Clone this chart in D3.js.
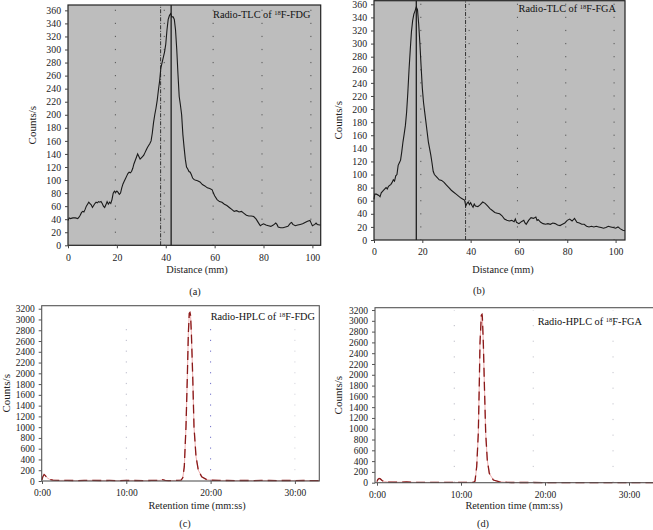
<!DOCTYPE html>
<html><head><meta charset="utf-8">
<script src="https://cdn.jsdelivr.net/npm/d3@7/dist/d3.min.js"></script>
<style>
html,body{margin:0;padding:0;background:#fff;overflow:hidden;}
svg{display:block;font-family:"Liberation Serif","DejaVu Serif",serif;}
</style></head>
<body><svg id="c" width="653" height="530"></svg>
<script>
// ---------- DATA ----------
const fdgTlcDist = [0,0.5,1,2,3,4,4.5,5,5.5,6,6.5,7,7.5,8,8.5,9,9.5,10,10.5,11,11.5,12,12.5,13,13.5,14,14.5,15,15.5,16,16.5,17,17.5,18,18.5,19,19.5,20,20.5,21,21.5,22,22.5,23,23.5,24,24.5,25,25.5,26,26.5,27,27.5,28,28.5,29,29.5,30,30.5,31,31.5,32,32.5,33,33.5,34,34.5,35,35.5,36,36.5,37,37.5,38,38.5,39,39.5,40,40.5,41,41.5,42,42.5,43,43.5,44,44.5,45,45.5,46,46.5,47,47.5,48,48.5,49,49.5,50,50.5,51,51.5,52,53,54,55,56,57,58,59,59.5,60,61,62,63,64,65,66,67,68,69,70,71,72,73,74,75,76,77,78,78.7,79.5,80,81,82,83,84,85,85.5,86,87,88,89,90,91,91.5,92,93,94,95,96,97,98,99,99.5,100,101,101.5,102,103,103.4];
const fdgTlcCounts = [38,42,41,42,42,41,43,46,50,52,51,55,60,63,66,64,62,58,61,64,66,65,67,66,67,64,60,58,62,67,63,66,64,70,80,83,81,83,81,78,80,88,94,98,102,106,110,112,111,113,118,125,130,135,140,136,132,134,136,138,142,146,150,153,156,160,172,188,200,210,222,238,252,272,280,288,296,308,330,346,352,355,350,350,346,330,300,262,228,215,200,170,150,132,120,117,113,112,108,103,101,100,99,97,93,91,88,87,85,80,76,70,67,66,63,61,58,55,52,53,51,52,49,46,45,45,44,40,34,30,32,33,31,30,29,31,34,32,28,27,27,28,29,34,35,32,30,31,32,33,35,37,38,34,30,32,34,32,31,31];
const fdgTlcMarks = {solid: 42.2, dashdot: 37.9};

const fgaTlcDist = [0,0.3,1,2,2.5,3,4,5,5.5,6,7,7.5,8,8.5,9,9.5,10,10.5,11,11.5,12,12.5,13,13.5,14,14.5,15,15.5,16,16.5,17,17.5,18,18.5,19,19.5,20,20.5,21,21.5,22,22.5,23,23.5,24,24.5,25,26,27,28,29,30,31,32,33,34,35,36,37,37.5,38,38.5,39,39.5,40,40.5,41,41.5,42,43,44,45,46,47,48,49,50,51,52,53,54,55,56,57,58,58.5,59,60,61,62,62.5,63,64,65,66,67,67.5,68,69,70,71,72,73,74,75,76,77,78,79,80,81,82,83,84,85,86,87,88,89,90,91,92,93,94,95,96,97,98,99,100,101,102,103,103.9];
const fgaTlcCounts = [62,70,70,68,66,72,76,80,78,82,85,88,92,90,98,100,114,118,122,135,150,162,175,195,225,260,290,318,335,345,350,356,352,330,300,265,232,210,195,180,165,150,140,130,118,105,100,96,92,91,88,84,80,76,73,70,67,64,62,61,52,56,58,54,57,53,50,55,52,51,54,58,56,52,48,45,42,41,40,37,32,30,29,30,28,32,27,25,28,30,26,24,30,34,33,35,30,31,27,25,24,25,24,26,25,23,22,24,26,30,32,29,33,27,26,24,24,21,20,21,20,21,20,19,18,19,21,20,19,18,20,17,15,14];
const fgaTlcMarks = {solid: 17.5, dashdot: 37.9};

const tlcXTicks = [0,20,40,60,80,100];
const tlcYTicks = d3.range(0, 361, 20);

const fdgHplcTime = [0,0.1,0.25,0.4,0.6,0.9,1.3,2,3,4,5,6,7,8,9,10,11,12,13,14,14.3,14.6,15,16,16.5,16.7,16.88,17.08,17.24,17.36,17.47,17.55,17.62,17.72,17.88,18.03,18.27,18.54,18.94,19.54,20,21,22,23,24,25,26,27,28,29,30,31,32,32.9];
const fdgHplcCounts = [20,80,120,100,60,30,15,10,12,8,10,12,9,10,8,10,9,8,10,12,25,10,8,10,15,60,266,1008,1937,2743,3115,3130,3083,2743,1937,1008,450,204,80,25,15,10,9,8,10,8,10,9,8,10,8,9,8,8];

const fgaHplcTime = [0,0.1,0.25,0.4,0.6,0.9,1.3,2,3,3.5,4,5,6,7,8,9,10,11,11.5,11.67,11.87,12.06,12.18,12.26,12.42,12.5,12.54,12.66,12.78,12.94,13.13,13.37,13.85,14.5,15,15.5,16,18,20,25,30,33.5];
const fgaHplcCounts = [20,60,80,70,40,20,12,8,10,14,8,6,5,6,5,6,5,6,8,30,300,915,1840,2580,3105,3120,3080,2580,1840,915,420,174,50,20,12,6,4,4,3,3,3,3];

const hplcXTicks = [0,10,20,30];
const hplcYTicks = d3.range(0, 3201, 200);
const fdgHplcGrid = [10,20,30];
const fgaHplcGrid = [9.2,18.6,28.1];

// ---------- DRAW ----------
const svg = d3.select("#c");
const fmtTime = m => `${Math.floor(m)}:${String(Math.round((m%1)*60)).padStart(2,"0")}`;

function tlcPanel(o){
  const g = svg.append("g");
  const x = d3.scaleLinear().domain([0, o.xMax]).range([o.l, o.r]);
  const y = d3.scaleLinear().domain([0, o.yMax]).range([o.b, o.t]);
  g.append("rect").attr("x",o.l).attr("y",o.t).attr("width",o.r-o.l).attr("height",o.b-o.t)
    .attr("fill","#bdbdbd");
  const step = y(0)-y(20);
  g.selectAll(".grid").data(tlcXTicks.filter(d=>d>0)).join("line")
    .attr("x1",d=>x(d)-1.5).attr("x2",d=>x(d)-1.5).attr("y1",y(0)).attr("y2",o.t)
    .attr("stroke","#555").attr("stroke-width",1).attr("stroke-dasharray",`1.2,${step-1.2}`)
    .attr("stroke-dashoffset",-step+0.6);
  g.append("line").attr("x1",x(o.marks.dashdot)).attr("x2",x(o.marks.dashdot)).attr("y1",o.b).attr("y2",o.t)
    .attr("stroke","#333").attr("stroke-width",1).attr("stroke-dasharray","4,1.5,1,1.5");
  g.append("line").attr("x1",x(o.marks.solid)).attr("x2",x(o.marks.solid)).attr("y1",o.b).attr("y2",o.t)
    .attr("stroke","#111").attr("stroke-width",1.2);
  const pts = o.xs.map((d,i)=>[d,o.ys[i]]);
  g.append("path").datum(pts).attr("fill","none").attr("stroke","#1a1a1a").attr("stroke-width",1.1)
    .attr("d", d3.line().x(d=>x(d[0])).y(d=>y(d[1])));
  g.append("rect").attr("x",o.l).attr("y",o.t).attr("width",o.r-o.l).attr("height",o.b-o.t)
    .attr("fill","none").attr("stroke","#222").attr("stroke-width",1.2);
  const ax = g.append("g").attr("transform",`translate(0,${o.b})`)
    .call(d3.axisBottom(x).tickValues(tlcXTicks).tickSize(3).tickSizeOuter(0));
  const ay = g.append("g").attr("transform",`translate(${o.l},0)`)
    .call(d3.axisLeft(y).tickValues(tlcYTicks).tickSize(3).tickSizeOuter(0));
  [ax,ay].forEach(a=>{a.select(".domain").remove();
    a.selectAll("text").attr("font-size","9.8px").attr("fill","#222").attr("font-family","Liberation Serif");
    a.selectAll("line").attr("stroke","#444");});
  ax.selectAll("text").attr("dy","0.95em");
  ay.selectAll("text").attr("dx","-0.1em");
  g.append("text").attr("x",o.titleX).attr("y",o.titleY).attr("text-anchor","end").attr("font-size","10.3px").attr("fill","#111")
    .call(t=>{t.append("tspan").text("Radio-TLC of ");
      t.append("tspan").attr("font-size","6.5px").attr("dy","-3.5").text("18");
      t.append("tspan").attr("dy","3.5").text(o.compound);});
  g.append("text").attr("transform",`translate(${o.ylx},${(o.t+o.b)/2}) rotate(-90)`).attr("text-anchor","middle")
    .attr("font-size","11px").attr("fill","#222").text("Counts/s");
  g.append("text").attr("x",o.xlx).attr("y",o.xly).attr("text-anchor","middle").attr("font-size","10.3px").attr("fill","#222").text("Distance (mm)");
  g.append("text").attr("x",o.px).attr("y",o.py).attr("text-anchor","middle").attr("font-size","10.3px").attr("fill","#222").text(o.panel);
}

function hplcPanel(o){
  const g = svg.append("g");
  const x = d3.scaleLinear().domain([0, o.xMax]).range([o.x0, o.x0 + o.xMax*o.pxPerMin]);
  const y = d3.scaleLinear().domain([0, o.yMax]).range([o.b, o.t]);
  g.append("rect").attr("x",o.l).attr("y",o.t).attr("width",o.r-o.l).attr("height",o.b-o.t).attr("fill","#fff");
  const step = y(0)-y(o.gridStep);
  g.selectAll(".grid").data(o.grid).join("line")
    .attr("x1",d=>x(d)).attr("x2",d=>x(d)).attr("y1",y(0)).attr("y2",y(o.gridTop))
    .attr("stroke",(d,i)=>o.gridColors[i]).attr("stroke-width",1).attr("stroke-dasharray",`1.2,${step-1.2}`);
  const pts = o.xs.map((d,i)=>[d,o.ys[i]]);
  const line = d3.line().x(d=>x(d[0])).y(d=>y(d[1]));
  g.append("path").datum(pts).attr("fill","none").attr("stroke","#efb0b0").attr("stroke-width",1).attr("d",line);
  g.append("path").datum(pts).attr("fill","none").attr("stroke","#8a1a1a").attr("stroke-width",1.3)
    .attr("stroke-dasharray","9,5").attr("d",line);
  g.append("rect").attr("x",o.l).attr("y",o.t).attr("width",o.r-o.l).attr("height",o.b-o.t)
    .attr("fill","none").attr("stroke","#555").attr("stroke-width",1.1);
  const ax = g.append("g").attr("transform",`translate(0,${o.b})`)
    .call(d3.axisBottom(x).tickValues(hplcXTicks).tickFormat(fmtTime).tickSize(3).tickSizeOuter(0));
  const ay = g.append("g").attr("transform",`translate(${o.l},0)`)
    .call(d3.axisLeft(y).tickValues(hplcYTicks).tickFormat(d3.format("d")).tickSize(3).tickSizeOuter(0));
  [ax,ay].forEach(a=>{a.select(".domain").remove();
    a.selectAll("text").attr("font-size","9.5px").attr("fill","#222").attr("font-family","Liberation Serif");
    a.selectAll("line").attr("stroke","#555");});
  ax.selectAll("text").attr("dy","0.95em");
  ay.selectAll("text").attr("dx","-0.1em");
  g.append("text").attr("x",o.titleX).attr("y",o.titleY).attr("text-anchor","end").attr("font-size","10.3px").attr("fill","#111")
    .call(t=>{t.append("tspan").text("Radio-HPLC of ");
      t.append("tspan").attr("font-size","6.5px").attr("dy","-3.5").text("18");
      t.append("tspan").attr("dy","3.5").text(o.compound);});
  g.append("text").attr("transform",`translate(${o.ylx},${(o.t+o.b)/2}) rotate(-90)`).attr("text-anchor","middle")
    .attr("font-size","11px").attr("fill","#222").text("Counts/s");
  g.append("text").attr("x",o.xlx).attr("y",o.xly).attr("text-anchor","middle").attr("font-size","10.3px").attr("fill","#222").text("Retention time (mm:ss)");
  g.append("text").attr("x",o.px).attr("y",o.py).attr("text-anchor","middle").attr("font-size","10.3px").attr("fill","#222").text(o.panel);
}

tlcPanel({l:68,r:320.7,t:5,b:245.3,xMax:103.4,yMax:368.2,xs:fdgTlcDist,ys:fdgTlcCounts,marks:fdgTlcMarks,
  compound:"F-FDG",titleX:310.5,titleY:18,ylx:36,xlx:197,xly:273,px:195,py:295,panel:"(a)"});
tlcPanel({l:374,r:625,t:0.7,b:240,xMax:103.9,yMax:365.5,xs:fgaTlcDist,ys:fgaTlcCounts,marks:fgaTlcMarks,
  compound:"F-FGA",titleX:616,titleY:12,ylx:342,xlx:503,xly:273,px:479,py:294,panel:"(b)"});
hplcPanel({l:41.7,r:319.3,t:305.7,b:481,x0:42,pxPerMin:8.43,xMax:32.9,yMax:3256,xs:fdgHplcTime,ys:fdgHplcCounts,
  grid:fdgHplcGrid,gridColors:["#b9b9c9","#6f6fc8","#d5d5dc"],gridStep:200,gridTop:3000,
  compound:"F-FDG",titleX:315,titleY:320,ylx:10,xlx:197,xly:509,px:185,py:527,panel:"(c)"});
hplcPanel({l:375,r:665,t:307.7,b:482.7,x0:377,pxPerMin:8.4,xMax:33.5,yMax:3243,xs:fgaHplcTime,ys:fgaHplcCounts,
  grid:fgaHplcGrid,gridColors:["#b9b9c4","#c4c4cc","#c4c4cc"],gridStep:290,gridTop:3200,
  compound:"F-FGA",titleX:642,titleY:325,ylx:342,xlx:514,xly:509,px:483,py:527,panel:"(d)"});
</script></body></html>
